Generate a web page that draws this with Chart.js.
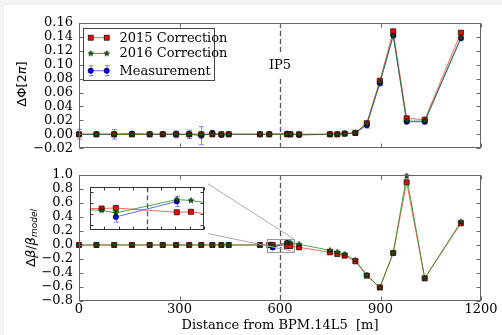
<!DOCTYPE html>
<html>
<head>
<meta charset="utf-8">
<script src="https://cdn.jsdelivr.net/npm/chart.js@4.4.0/dist/chart.umd.min.js"></script>
<style>
  body { margin:0; background:#f3f3f3; width:502px; height:335px; overflow:hidden; position:relative; }
  #page { position:absolute; left:4px; top:5px; width:498px; height:330px; background:#fff; }
  canvas { position:absolute; }
  #cTop { left:0; top:0; }
  #cBot { left:0; top:160px; }
  #cIns { left:86px; top:183px; }
</style>
</head>
<body>
<div id="page"></div>
<canvas id="cTop" width="502" height="162"></canvas>
<canvas id="cBot" width="502" height="175"></canvas>
<canvas id="cIns" width="122" height="51"></canvas>
<script>
// names of the series
const seriesNames = ['2015 Correction', '2016 Correction', 'Measurement']

// phase advance panel
const sPhi = [0, 52, 105, 158, 211, 250, 290, 329, 365, 398, 425, 447, 540, 568, 621, 631, 657, 749, 771, 793, 825, 859, 898, 938, 978, 1032, 1140]
const phi2015 = [0, 0, 0, 0, 0, 0, 0, 0, 0, 0, 0, 0, 0, 0, 0, 0, 0, 0, 0, 0.001, 0.002, 0.016, 0.077, 0.148, 0.023, 0.021, 0.146]
const phi2016 = [0, 0, 0, 0, 0, 0, 0, 0, 0, 0, 0, 0, 0, 0, 0, 0, 0, 0, 0, 0.001, 0.002, 0.015, 0.075, 0.142, 0.019, 0.019, 0.139]
const phiMeas = [0, 0, 0, 0.001, 0, 0, 0, 0, -0.002, 0.002, -0.001, 0, 0, 0, 0.001, 0, -0.001, 0, 0, 0.001, 0.002, 0.013, 0.073, 0.142, 0.018, 0.018, 0.138]
const phiErr  = [0.007, 0.001, 0.007, 0.002, 0.001, 0.002, 0.005, 0.006, 0.013, 0.003, 0.001, 0.001, 0.001, 0.001, 0.001, 0.001, 0.002, 0.002, 0.001, 0.001, 0.001, 0.004, 0.002, 0.002, 0.002, 0.003, 0.002]

// beta-beating panel
const sBeta = [0, 52, 105, 158, 211, 250, 290, 329, 365, 398, 425, 447, 540, 568, 578, 621, 631, 657, 749, 771, 793, 825, 859, 898, 938, 978, 1032, 1140]
const beta2015 = [0, 0, 0, 0, 0, 0, 0, 0, 0, 0, 0, 0, 0, 0, 0.002, -0.016, -0.014, -0.033, -0.105, -0.129, -0.152, -0.233, -0.438, -0.605, -0.114, 0.895, -0.476, 0.31]
const beta2016 = [0, 0, 0, 0, 0, 0, 0, 0, 0, 0, 0, 0, 0, -0.008, -0.019, 0.038, 0.034, 0.01, -0.076, -0.1, -0.133, -0.214, -0.43, -0.61, -0.114, 0.986, -0.476, 0.333]
const sBetaMeas = [578, 621]
const betaMeas = [-0.036, 0.030]
const betaErr = [0.022, 0.022]

// ticks
const xTicks = [0, 300, 600, 900, 1200]
const phiTicks = [-0.02, 0, 0.02, 0.04, 0.06, 0.08, 0.10, 0.12, 0.14, 0.16]
const betaTicks = [-0.8, -0.6, -0.4, -0.2, 0, 0.2, 0.4, 0.6, 0.8, 1.0]
const insetXTicks = [560, 570, 580, 590, 600, 610, 620, 630, 640]
const insetYTicks = [-0.072, -0.024, 0.024, 0.072]
const ipPos = 600

Chart.defaults.font.family = 'DejaVu Serif'
Chart.defaults.font.size = 13
Chart.defaults.color = '#000'

const RED = '#ff0000', GREEN = '#0a6a0a', BLUE = '#0000ff'
const RED_L = 'rgba(255,0,0,0.6)', GREEN_L = 'rgba(0,128,0,0.7)', BLUE_L = 'rgba(0,0,255,0.6)'

function makeStar(r){
  const c = document.createElement('canvas')
  const s = Math.ceil(r*2 + 2)
  c.width = s; c.height = s
  const g = c.getContext('2d')
  g.beginPath()
  for(let i = 0; i < 10; i++){
    const a = -Math.PI/2 + i*Math.PI/5
    const rr = i % 2 ? r*0.45 : r
    g.lineTo(s/2 + rr*Math.cos(a), s/2 + rr*Math.sin(a))
  }
  g.closePath()
  g.fillStyle = GREEN; g.fill()
  g.strokeStyle = '#000'; g.lineWidth = 0.6; g.stroke()
  return c
}
const star = makeStar(2.9)

function pts(xs, ys){ return xs.map((x, i) => ({x: x, y: ys[i]})) }

function serie(xs, ys, fill, line, style, radius, clip){
  return {
    data: pts(xs, ys),
    showLine: true,
    borderColor: line,
    borderWidth: 1,
    backgroundColor: fill,
    pointBackgroundColor: fill,
    pointBorderColor: '#000',
    pointBorderWidth: 0.7,
    pointStyle: style,
    pointRadius: radius,
    pointHoverRadius: radius,
    tension: 0,
    clip: clip
  }
}

function minus(s){ return s.replace('-', '\u2212') }

function drawErr(chart, xs, ys, es){
  const {ctx, scales: {x, y}} = chart
  ctx.save()
  ctx.strokeStyle = 'rgba(40,40,255,0.55)'
  ctx.lineWidth = 1
  xs.forEach((v, i) => {
    const px = Math.round(x.getPixelForValue(v)) + 0.5
    const p1 = y.getPixelForValue(ys[i] - es[i])
    const p2 = y.getPixelForValue(ys[i] + es[i])
    ctx.beginPath()
    ctx.moveTo(px, p1); ctx.lineTo(px, p2)
    ctx.moveTo(px - 2.5, p1); ctx.lineTo(px + 2.5, p1)
    ctx.moveTo(px - 2.5, p2); ctx.lineTo(px + 2.5, p2)
    ctx.stroke()
  })
  ctx.restore()
}

function drawVline(chart, v, from, to){
  const {ctx, chartArea: a, scales: {x}} = chart
  const px = Math.round(x.getPixelForValue(v)) + 0.5
  ctx.save()
  ctx.strokeStyle = '#555'
  ctx.lineWidth = 1.3
  ctx.setLineDash([5, 3])
  ctx.beginPath()
  ctx.moveTo(px, from === undefined ? a.top : from)
  ctx.lineTo(px, to === undefined ? a.bottom : to)
  ctx.stroke()
  ctx.restore()
}

function drawFrame(chart, xt, yt, len, color){
  const {ctx, chartArea: a, scales: {x, y}} = chart
  const L = Math.round(a.left) + 0.5, R = Math.round(a.right) - 0.5
  const T = Math.round(a.top) + 0.5, B = Math.round(a.bottom) - 0.5
  ctx.save()
  ctx.strokeStyle = color
  ctx.lineWidth = 1
  ctx.beginPath()
  xt.forEach(v => {
    const px = Math.round(x.getPixelForValue(v)) + 0.5
    ctx.moveTo(px, B); ctx.lineTo(px, B - len)
    ctx.moveTo(px, T); ctx.lineTo(px, T + len)
  })
  yt.forEach(v => {
    const py = Math.round(y.getPixelForValue(v)) + 0.5
    ctx.moveTo(L, py); ctx.lineTo(L + len, py)
    ctx.moveTo(R, py); ctx.lineTo(R - len, py)
  })
  ctx.stroke()
  ctx.strokeRect(L, T, R - L, B - T)
  ctx.restore()
}

// text made of runs with different fonts, rotated
function drawRuns(ctx, runs, cx, cy, rot){
  ctx.save()
  ctx.translate(cx, cy)
  ctx.rotate(rot)
  let w = 0
  runs.forEach(r => { ctx.font = r.font; w += ctx.measureText(r.t).width })
  let x = -w/2
  ctx.textBaseline = 'middle'
  ctx.fillStyle = '#000'
  runs.forEach(r => {
    ctx.font = r.font
    ctx.fillText(r.t, x, r.dy || 0)
    x += ctx.measureText(r.t).width
  })
  ctx.restore()
}

function legendMarker(ctx, kind, x, y){
  ctx.save()
  if(kind == 0){
    ctx.fillStyle = RED; ctx.strokeStyle = '#000'; ctx.lineWidth = 0.7
    ctx.fillRect(x - 2.5, y - 2.5, 5, 5); ctx.strokeRect(x - 2.5, y - 2.5, 5, 5)
  } else if(kind == 1){
    ctx.drawImage(star, x - star.width/2, y - star.height/2)
  } else {
    ctx.strokeStyle = 'rgba(40,40,255,0.55)'; ctx.lineWidth = 1
    ctx.beginPath()
    ctx.moveTo(x + 0.5, y - 5); ctx.lineTo(x + 0.5, y + 5)
    ctx.moveTo(x - 2, y - 5); ctx.lineTo(x + 3, y - 5)
    ctx.moveTo(x - 2, y + 5); ctx.lineTo(x + 3, y + 5)
    ctx.stroke()
    ctx.fillStyle = BLUE; ctx.strokeStyle = '#000'; ctx.lineWidth = 0.7
    ctx.beginPath(); ctx.arc(x, y, 2.6, 0, Math.PI*2); ctx.fill(); ctx.stroke()
  }
  ctx.restore()
}

// ---------------- top chart
const topPlugin = {
  id: 'topExtras',
  beforeDatasetsDraw(chart){
    const {ctx, scales: {x}} = chart
    drawVline(chart, ipPos)
    // IP5 label with white box
    const px = x.getPixelForValue(ipPos)
    ctx.save()
    ctx.fillStyle = '#fff'
    ctx.fillRect(px - 14, 54, 28, 23)
    ctx.fillStyle = '#000'
    ctx.font = '13px "DejaVu Serif"'
    ctx.textAlign = 'center'; ctx.textBaseline = 'middle'
    ctx.fillText('IP5', px, 65.5)
    ctx.restore()
    drawErr(chart, sPhi, phiMeas, phiErr)
  },
  afterDraw(chart){
    const {ctx} = chart
    drawFrame(chart, xTicks, phiTicks, 4, '#666')
    // legend
    ctx.save()
    ctx.fillStyle = '#fff'
    ctx.fillRect(83, 28, 131, 52)
    ctx.strokeStyle = '#444'; ctx.lineWidth = 1
    ctx.strokeRect(83.5, 28.5, 131, 52)
    const rows = [37.7, 53.5, 70.7]
    const cols = [RED_L, GREEN_L, BLUE_L]
    seriesNames.forEach((n, i) => {
      ctx.strokeStyle = cols[i]; ctx.lineWidth = 1
      ctx.beginPath(); ctx.moveTo(90.7, rows[i]); ctx.lineTo(106.7, rows[i]); ctx.stroke()
      legendMarker(ctx, i, 90.7, rows[i])
      legendMarker(ctx, i, 106.7, rows[i])
      ctx.fillStyle = '#000'
      ctx.font = '13px "DejaVu Serif"'
      ctx.textBaseline = 'middle'
      ctx.fillText(n, 119.5, rows[i] + 0.5)
    })
    ctx.restore()
    drawRuns(ctx, [
      {t: '\u0394\u03a6[2', font: '13px "DejaVu Sans"'},
      {t: '\u03c0', font: 'italic 13px "DejaVu Sans"'},
      {t: ']', font: '13px "DejaVu Sans"'}
    ], 23, 84, -Math.PI/2)
  }
}

new Chart(document.getElementById('cTop'), {
  type: 'scatter',
  data: {
    datasets: [
      serie(sPhi, phi2016, star, GREEN_L, star, 2.9, false),
      serie(sPhi, phi2015, RED, RED_L, 'rect', 3.6, false),
      serie(sPhi, phiMeas, BLUE, BLUE_L, 'circle', 2.6, false)
    ]
  },
  options: {
    responsive: false,
    animation: false,
    events: [],
    layout: { padding: { left: 0, top: 23, right: 21, bottom: 13 } },
    plugins: { legend: { display: false }, tooltip: { enabled: false } },
    scales: {
      x: { type: 'linear', display: false, min: 0, max: 1200 },
      y: {
        min: -0.02, max: 0.16,
        grid: { display: false, drawTicks: false },
        border: { display: false },
        afterBuildTicks: s => { s.ticks = phiTicks.map(v => ({value: v})) },
        afterFit: s => { s.width = 79 },
        ticks: { padding: 6, autoSkip: false, callback: v => minus(v.toFixed(2)) }
      }
    }
  },
  plugins: [topPlugin]
})

// ---------------- bottom chart
const insLeft = 86, insTop = 183 - 160, insW = 122, insH = 51

const botPlugin = {
  id: 'botExtras',
  beforeDatasetsDraw(chart){
    drawVline(chart, ipPos)
    drawErr(chart, sBetaMeas, betaMeas, betaErr)
  },
  afterDatasetsDraw(chart){
    const {ctx, scales: {x, y}} = chart
    const bx1 = x.getPixelForValue(insetXTicks[0]), bx2 = x.getPixelForValue(insetXTicks[insetXTicks.length - 1])
    const by1 = y.getPixelForValue(0.09), by2 = y.getPixelForValue(-0.09)
    ctx.save()
    ctx.strokeStyle = '#999'; ctx.lineWidth = 1
    ctx.strokeRect(Math.round(bx1) + 0.5, Math.round(by1) + 0.5, Math.round(bx2 - bx1), Math.round(by2 - by1))
    ctx.strokeStyle = '#aaa'
    ctx.beginPath()
    ctx.moveTo(insLeft + insW - 0.5, insTop + 0.5); ctx.lineTo(bx2, by1)
    ctx.moveTo(insLeft + insW - 0.5, insTop + insH - 0.5); ctx.lineTo(bx2, by2)
    ctx.stroke()
    ctx.restore()
  },
  afterDraw(chart){
    const {ctx} = chart
    drawFrame(chart, xTicks, betaTicks, 4, '#666')
    drawRuns(ctx, [
      {t: '\u0394', font: '13px "DejaVu Sans"'},
      {t: '\u03b2', font: 'italic 13px "DejaVu Sans"'},
      {t: '/', font: '13px "DejaVu Sans"'},
      {t: '\u03b2', font: 'italic 13px "DejaVu Sans"'},
      {t: 'model', font: 'italic 9px "DejaVu Sans"', dy: 3}
    ], 32, 78, -Math.PI/2)
    ctx.save()
    ctx.font = '13px "DejaVu Serif"'
    ctx.textAlign = 'center'; ctx.textBaseline = 'middle'
    ctx.fillStyle = '#000'
    ctx.fillText('Distance from BPM.14L5  [m]', 280, 166)
    ctx.restore()
  }
}

new Chart(document.getElementById('cBot'), {
  type: 'scatter',
  data: {
    datasets: [
      serie(sBeta, beta2016, star, GREEN_L, star, 2.9, false),
      serie(sBeta, beta2015, RED, RED_L, 'rect', 3.6, false),
      serie(sBetaMeas, betaMeas, BLUE, BLUE_L, 'circle', 2.6, false)
    ]
  },
  options: {
    responsive: false,
    animation: false,
    events: [],
    layout: { padding: { left: 0, top: 15, right: 21, bottom: 14 } },
    plugins: { legend: { display: false }, tooltip: { enabled: false } },
    scales: {
      x: {
        type: 'linear', min: 0, max: 1200,
        grid: { display: false, drawTicks: false },
        border: { display: false },
        afterBuildTicks: s => { s.ticks = xTicks.map(v => ({value: v})) },
        afterFit: s => { s.height = 20 },
        ticks: { padding: 1, autoSkip: false, maxRotation: 0, callback: v => String(v) }
      },
      y: {
        min: -0.8, max: 1.0,
        grid: { display: false, drawTicks: false },
        border: { display: false },
        afterBuildTicks: s => { s.ticks = betaTicks.map(v => ({value: v})) },
        afterFit: s => { s.width = 79 },
        ticks: { padding: 6, autoSkip: false, callback: v => minus(v.toFixed(1)) }
      }
    }
  },
  plugins: [botPlugin]
})

// ---------------- inset
const insPlugin = {
  id: 'insExtras',
  beforeDraw(chart){
    const {ctx, width, height} = chart
    ctx.save(); ctx.fillStyle = '#fff'; ctx.fillRect(0, 0, width, height); ctx.restore()
  },
  beforeDatasetsDraw(chart){
    drawVline(chart, ipPos)
    drawErr(chart, sBetaMeas, betaMeas, betaErr)
  },
  afterDraw(chart){
    drawFrame(chart, insetXTicks, insetYTicks, 3, '#333')
  }
}

new Chart(document.getElementById('cIns'), {
  type: 'scatter',
  data: {
    datasets: [
      serie(sBeta, beta2016, star, GREEN_L, star, 2.9, true),
      serie(sBeta, beta2015, RED, RED_L, 'rect', 3.6, true),
      serie(sBetaMeas, betaMeas, BLUE, BLUE_L, 'circle', 2.6, true)
    ]
  },
  options: {
    responsive: false,
    animation: false,
    events: [],
    layout: { padding: 0 },
    plugins: { legend: { display: false }, tooltip: { enabled: false } },
    scales: {
      x: { type: 'linear', display: false, min: 560, max: 640 },
      y: { display: false, min: -0.09, max: 0.09 }
    }
  },
  plugins: [insPlugin]
})
</script>
</body>
</html>
